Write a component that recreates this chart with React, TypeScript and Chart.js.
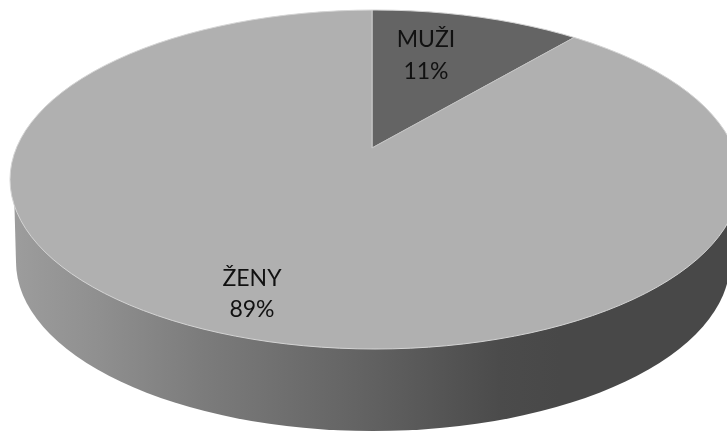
import React, { useEffect, useRef } from "react";
import { Chart, registerables } from "chart.js";

Chart.register(...registerables);

const categories = ["MUŽI", "ŽENY"];
const shares = [11, 89];
const sliceColors = ["#646464", "#b0b0b0"];

// Picture geometry (style, not data)
const W = 727;
const H = 432;
const TOP = { cx: 375, cy: 179.5, rx: 365, ry: 169.5 };
const BASE = { cx: 373, cy: 262, rx: 357, ry: 169 };
const APEX = { x: 372, y: 148, rx: 305, ry: 138, k: 2 };
const LABEL_AT = [
  { x: 426, y: 40, dy: 32 },
  { x: 252, y: 279, dy: 31 },
];

const piePerspective = {
  id: "piePerspective",
  beforeDatasetsDraw(chart: any) {
    const ctx = chart.ctx;
    const g = ctx.createLinearGradient(17, 0, 727, 0);
    const stops: [number, string][] = [
      [17, "#9c9c9c"],
      [100, "#8f8f8f"],
      [200, "#7c7c7c"],
      [360, "#636363"],
      [500, "#4b4b4b"],
      [560, "#484848"],
      [727, "#484848"],
    ];
    stops.forEach(([x, c]) => g.addColorStop((x - 17) / 710, c));
    ctx.save();
    ctx.fillStyle = g;
    ctx.beginPath();
    ctx.ellipse(BASE.cx, BASE.cy, BASE.rx, BASE.ry, 0, 0, Math.PI * 2);
    ctx.fill();
    ctx.beginPath();
    ctx.moveTo(14, 190);
    ctx.lineTo(BASE.cx - BASE.rx, BASE.cy);
    ctx.lineTo(BASE.cx + BASE.rx, BASE.cy);
    ctx.lineTo(735, 190);
    ctx.closePath();
    ctx.fill();
    ctx.restore();
  },
  beforeDatasetDraw(chart: any) {
    const ctx = chart.ctx;
    const arc = chart.getDatasetMeta(0).data[0];
    const R = arc.outerRadius;
    ctx.save();
    ctx.beginPath();
    ctx.ellipse(TOP.cx, TOP.cy, TOP.rx, TOP.ry, 0, 0, Math.PI * 2);
    ctx.clip();
    ctx.translate(APEX.x, APEX.y);
    ctx.scale((APEX.rx * APEX.k) / R, (APEX.ry * APEX.k) / R);
    ctx.translate(-arc.x, -arc.y);
  },
  afterDatasetDraw(chart: any) {
    const ctx = chart.ctx;
    ctx.restore();
    ctx.save();
    ctx.strokeStyle = "#d4d4d4";
    ctx.lineWidth = 1;
    ctx.beginPath();
    ctx.ellipse(TOP.cx, TOP.cy, TOP.rx, TOP.ry, 0, 0, Math.PI * 2);
    ctx.stroke();
    ctx.restore();
  },
  afterDraw(chart: any) {
    const ctx = chart.ctx;
    ctx.save();
    ctx.fillStyle = "#111111";
    ctx.font = '23px Lato, "Noto Sans", sans-serif';
    ctx.textAlign = "center";
    ctx.textBaseline = "middle";
    categories.forEach((name, i) => {
      const at = LABEL_AT[i];
      ctx.fillText(name, at.x, at.y);
      ctx.fillText(`${shares[i]}%`, at.x, at.y + at.dy);
    });
    ctx.restore();
  },
};

export default function App() {
  const ref = useRef<HTMLCanvasElement>(null);
  useEffect(() => {
    document.body.style.margin = "0";
    document.body.style.background = "#ffffff";
    const chart = new Chart(ref.current!, {
      type: "pie",
      data: {
        labels: categories,
        datasets: [
          {
            data: shares,
            backgroundColor: sliceColors,
            borderColor: "#c6c6c6",
            borderWidth: 0.4,
            clip: false,
          } as any,
        ],
      },
      options: {
        responsive: false,
        animation: false,
        devicePixelRatio: 1,
        layout: { padding: 0 },
        plugins: { legend: { display: false }, tooltip: { enabled: false } },
      },
      plugins: [piePerspective],
    });
    return () => chart.destroy();
  }, []);
  return (
    <div style={{ width: W, height: H, overflow: "hidden" }}>
      <canvas ref={ref} width={W} height={H} style={{ display: "block" }} />
    </div>
  );
}
